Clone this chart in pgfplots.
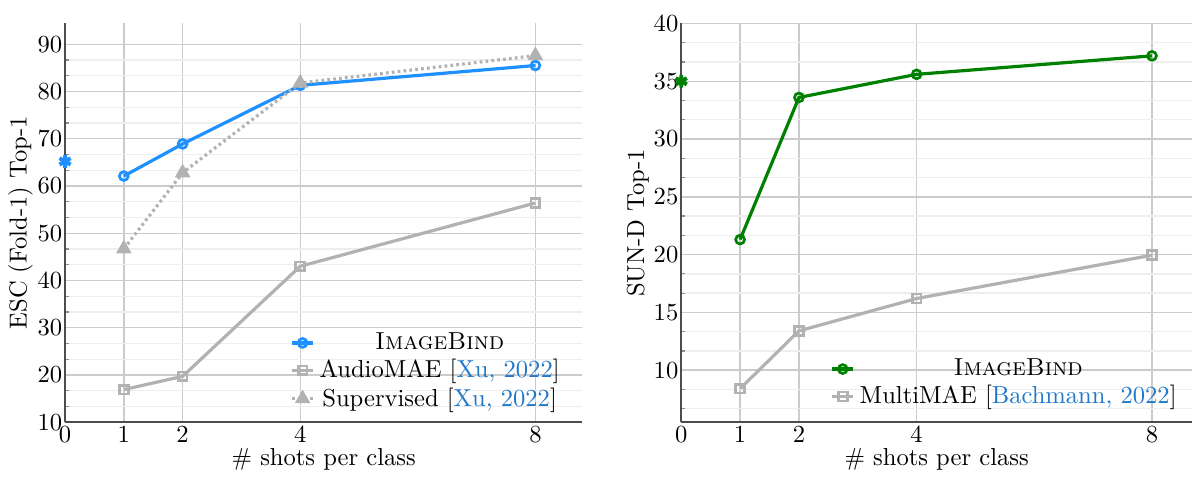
\documentclass[border=0pt]{standalone}
\usepackage{pgfplots}
\pgfplotsset{compat=1.18}
\definecolor{ibblue}{RGB}{30,144,255}
\definecolor{ibgreen}{RGB}{0,128,0}
\definecolor{basegray}{RGB}{178,178,178}
\definecolor{citeblue}{RGB}{31,119,200}
\definecolor{majgrid}{RGB}{204,204,204}
\definecolor{mingrid}{RGB}{238,238,238}
\pgfplotsset{
  myaxis/.style={
    scale only axis,
    height=162.2pt,
    axis x line*=bottom, axis y line*=left,
    axis line style={black!70, line width=0.8pt, -},
    xmin=0, xtick={0,1,2,4,8},
    grid=both,
    major grid style={majgrid, line width=0.55pt},
    minor grid style={mingrid, line width=0.55pt},
    tick style={black!45, line width=0.5pt},
    major tick length=0pt, minor tick length=1.6pt,
    tick align=inside,
    yticklabel style={inner xsep=1pt},
    xticklabel style={inner ysep=1.5pt},
    xlabel={\# shots per class},
    xlabel shift=-2.3pt,
    ylabel shift=-2.6pt,
    clip=false,
    legend cell align=center,
    legend style={draw=none, fill=none, font=\normalsize, row sep=-1.5pt},
    legend image code/.code={\draw[mark repeat=2,mark phase=2] plot coordinates {(0cm,0cm) (0.15cm,0cm) (0.3cm,0cm)};},
  },
  ib/.style={line width=1.3pt, mark=o, mark size=1.8pt, mark options={solid, fill=white, line width=1.1pt}},
  base/.style={basegray, line width=1.3pt, mark=square, mark size=1.8pt, mark options={solid, fill=white, line width=1.1pt}},
  star/.style={only marks, mark=asterisk, mark size=2.6pt, line width=1.6pt, forget plot},
}
\begin{document}
\begin{tikzpicture}
\begin{axis}[myaxis,
  width=210.5pt,
  xmax=8.8,
  ymin=10, ymax=94.4,
  ytick={10,20,...,90},
  minor ytick={13.333,16.667,23.333,26.667,33.333,36.667,43.333,46.667,53.333,56.667,63.333,66.667,73.333,76.667,83.333,86.667},
  ylabel={ESC (Fold-1) Top-1},
  legend style={at={(axis cs:8.63,10.45)}, anchor=south east},
]
\addplot[ib, ibblue] coordinates {(1,62.1) (2,68.9) (4,81.3) (8,85.5)};
\addlegendentry{\textsc{ImageBind}}
\addplot[base] coordinates {(1,16.9) (2,19.7) (4,43.0) (8,56.4)};
\addlegendentry{AudioMAE [\textcolor{citeblue}{Xu, 2022}]}
\addplot[basegray, line width=1.3pt, dash pattern=on 1.1pt off 1.3pt, mark=triangle*, mark size=2.4pt, mark options={solid}] coordinates {(1,46.7) (2,62.8) (4,81.8) (8,87.6)};
\addlegendentry{Supervised [\textcolor{citeblue}{Xu, 2022}]}
\addplot[star, ibblue] coordinates {(0,65.2)};
\end{axis}
\begin{axis}[myaxis,
  xshift=250.7pt,
  width=207.8pt,
  xmax=8.68,
  ymin=5.5, ymax=40,
  ytick={10,15,...,40},
  minor ytick={6.667,8.333,11.667,13.333,16.667,18.333,21.667,23.333,26.667,28.333,31.667,33.333,36.667,38.333},
  ylabel={SUN-D Top-1},
  legend style={at={(axis cs:8.635,5.87)}, anchor=south east},
]
\addplot[ib, ibgreen] coordinates {(1,21.3) (2,33.6) (4,35.6) (8,37.2)};
\addlegendentry{\textsc{ImageBind}}
\addplot[base] coordinates {(1,8.4) (2,13.4) (4,16.2) (8,19.95)};
\addlegendentry{MultiMAE [\textcolor{citeblue}{Bachmann, 2022}]}
\addplot[star, ibgreen] coordinates {(0,35.0)};
\end{axis}
\path (current bounding box.north) ++(0,3pt);
\end{tikzpicture}
\end{document}
